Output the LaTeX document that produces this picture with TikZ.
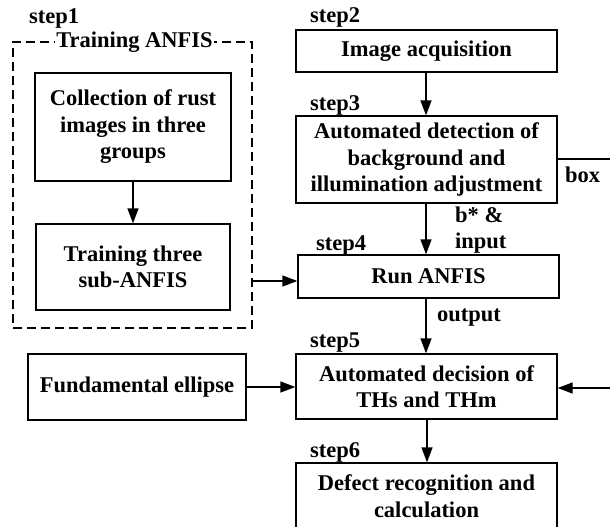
\documentclass[tikz,border=0pt]{standalone}
\usepackage{fontspec}
\setmainfont{Liberation Serif}
\usetikzlibrary{arrows.meta}
\begin{document}
\begin{tikzpicture}[x=1pt,y=-1pt,
  every node/.style={font=\fontsize{22.5}{26.5}\selectfont\bfseries, inner sep=0pt},
  stepbox/.style={draw, line width=1.3pt, align=center},
  lbl/.style={anchor=west},
  conn/.style={line width=1.3pt},
  arr/.style={line width=1.3pt, -{Triangle[length=15pt,width=11pt]}}]
\useasboundingbox (0,0) rectangle (610,527);
\clip (0,0) rectangle (610,527);
% step1 group
\node[draw, dash pattern=on 9pt off 5pt, line width=1.2pt, minimum width=239pt, minimum height=286pt] (grp) at (132.5,185) {};
\node[fill=white, inner xsep=1pt] (grptitle) at (134.5,42) {Training ANFIS};
\node[lbl] (s1) at (29,18) {step1};
\node[stepbox, minimum width=196pt, minimum height=108pt] (coll) at (133,127) {Collection of rust\\images in three\\groups};
\node[stepbox, minimum width=194pt, minimum height=86pt] (train) at (133,267) {Training three\\sub-ANFIS};
% right column
\node[stepbox, minimum width=261pt, minimum height=42pt] (img) at (426.5,51) {Image acquisition};
\node[lbl] (s2) at (310,17) {step2};
\node[stepbox, minimum width=261pt, minimum height=87pt] (det) at (426.5,159.5) {Automated detection of\\background and\\illumination adjustment};
\node[lbl] (s3) at (310,105) {step3};
\node[stepbox, minimum width=261pt, minimum height=43pt] (run) at (428.5,276.5) {Run ANFIS};
\node[lbl] (s4) at (316,245) {step4};
\node[stepbox, minimum width=261pt, minimum height=65pt] (dec) at (426.5,386.5) {Automated decision of\\THs and THm};
\node[lbl] (s5) at (310,343) {step5};
\node[stepbox, minimum width=218pt, minimum height=66pt] (fund) at (137,387) {Fundamental ellipse};
\node[stepbox, minimum width=261pt, minimum height=66pt] (def) at (426.5,496) {Defect recognition and\\calculation};
\node[lbl] (s6) at (310,452) {step6};
% edge labels
\node[lbl, align=left] (bin) at (455,230) {b* \&\\input};
\node[lbl] (out) at (437,318) {output};
\node[lbl] (boxl) at (565,175) {box};
% connectors
\coordinate (dashR) at (252,281);
\coordinate (boxEnd) at (612,159);
\coordinate (rightIn) at (612,388);
\draw[arr] (coll) -- (train);
\draw[arr] (dashR) -- (dashR -| run.west);
\draw[arr] (img.south -| 426,0) -- (det.north -| 426,0);
\draw[arr] (det.south -| 426,0) -- (run.north -| 426,0);
\draw[arr] (run.south -| 426,0) -- (dec.north -| 426,0);
\draw[arr] (dec.south -| 427,0) -- (def.north -| 427,0);
\draw[arr] (fund.east) -- (dec.west |- fund.east);
\draw[conn] (det.east |- boxEnd) -- (boxEnd);
\draw[arr] (rightIn) -- (dec.east |- rightIn);
\end{tikzpicture}
\end{document}
